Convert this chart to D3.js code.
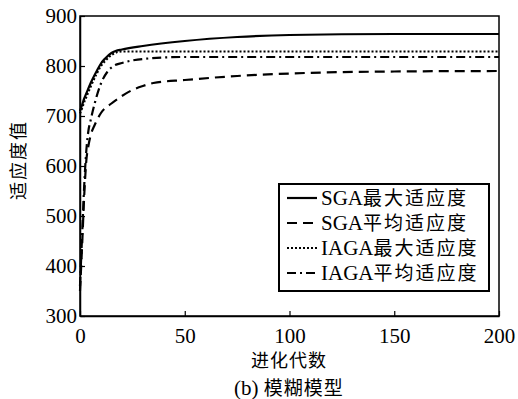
<!DOCTYPE html>
<html>
<head>
<meta charset="utf-8">
<script src="https://cdn.jsdelivr.net/npm/d3@7"></script>
<style>
  body { margin: 0; background: #fff; }
  svg { display: block; }
  .tick-label { font-family: "Liberation Serif", "Times New Roman", serif; font-size: 21px; fill: #000; }
  .cjk { font-family: "Noto Sans CJK SC", "Liberation Serif", serif; fill: #000; }
</style>
</head>
<body>
<div id="chart"></div>
<script>
// Data (generation -> fitness)
const sgaMaxGen = [0, 1, 2, 3, 5, 8, 10, 12, 15, 17, 20, 30, 50, 75, 100, 150, 200];
const sgaMax = [710, 722, 735, 745, 765, 790, 805, 815, 826, 830, 833, 840, 850, 858, 862, 864, 864];

const sgaAvgGen = [0, 1, 2, 3, 4, 5, 7, 10, 15, 20, 25, 30, 35, 50, 75, 100, 150, 200];
const sgaAvg = [350, 440, 540, 610, 640, 660, 682, 706, 725, 740, 752, 760, 766, 772, 780, 785, 789, 790];

const iagaMaxGen = [0, 1, 2, 3, 5, 8, 10, 12, 15, 18, 20, 30, 50, 100, 200];
const iagaMax = [705, 716, 728, 738, 758, 785, 800, 810, 822, 828, 829, 829, 829, 829, 829];

const iagaAvgGen = [0, 1, 2, 3, 4, 5, 7, 10, 13, 16, 20, 30, 50, 100, 200];
const iagaAvg = [360, 460, 560, 630, 670, 690, 725, 765, 788, 800, 806, 814, 818, 818, 818];

const xTicks = [0, 50, 100, 150, 200];
const yTicks = [300, 400, 500, 600, 700, 800, 900];
const legendLabels = ["SGA最大适应度", "SGA平均适应度", "IAGA最大适应度", "IAGA平均适应度"];

const W = 518, H = 399;
const margin = { top: 16, right: 19, bottom: 83, left: 80 };

const svg = d3.select('#chart').append('svg')
  .attr('width', W).attr('height', H);

const x = d3.scaleLinear().domain([0, 200]).range([margin.left, W - margin.right]);
const y = d3.scaleLinear().domain([300, 900]).range([H - margin.bottom, margin.top]);

const series = [
  { gen: sgaMaxGen, val: sgaMax, dash: null },
  { gen: sgaAvgGen, val: sgaAvg, dash: '10,6' },
  { gen: iagaMaxGen, val: iagaMax, dash: '2,2' },
  { gen: iagaAvgGen, val: iagaAvg, dash: '9,4,2,4' }
];

const line = d3.line()
  .x(d => x(d[0]))
  .y(d => y(d[1]))
  .curve(d3.curveMonotoneX);

// Lines
const plot = svg.append('g');
series.forEach(s => {
  plot.append('path')
    .datum(s.gen.map((g, i) => [g, s.val[i]]))
    .attr('fill', 'none')
    .attr('stroke', '#000')
    .attr('stroke-width', 2.2)
    .attr('stroke-dasharray', s.dash)
    .attr('d', line);
});

// Frame
svg.append('rect')
  .attr('x', x(0)).attr('y', y(900))
  .attr('width', x(200) - x(0)).attr('height', y(300) - y(900))
  .attr('fill', 'none').attr('stroke', '#000').attr('stroke-width', 1.5);

// Axes (ticks inside)
const xAxis = svg.append('g')
  .attr('transform', `translate(0,${y(300)})`)
  .call(d3.axisBottom(x).tickValues(xTicks).tickSizeInner(-5).tickSizeOuter(0).tickPadding(12));
const yAxis = svg.append('g')
  .attr('transform', `translate(${x(0)},0)`)
  .call(d3.axisLeft(y).tickValues(yTicks).tickSizeInner(-5).tickSizeOuter(0).tickPadding(3));

[xAxis, yAxis].forEach(a => {
  a.select('.domain').attr('stroke-width', 1.5);
  a.selectAll('.tick line').attr('stroke-width', 1.2);
  a.selectAll('.tick text').attr('class', 'tick-label').attr('font-size', null).attr('font-family', null);
  a.attr('font-size', null).attr('font-family', null);
});

// Axis titles
svg.append('text')
  .attr('class', 'cjk')
  .attr('x', 289).attr('y', 367)
  .attr('text-anchor', 'middle')
  .attr('font-size', 18)
  .attr('letter-spacing', 1)
  .text('进化代数');

svg.append('text')
  .attr('class', 'cjk')
  .attr('transform', 'translate(25,160) rotate(-90)')
  .attr('text-anchor', 'middle')
  .attr('font-size', 18)
  .attr('letter-spacing', 2)
  .text('适应度值');

const cap = svg.append('text')
  .attr('x', 289).attr('y', 395)
  .attr('text-anchor', 'middle')
  .attr('font-size', 19);
cap.append('tspan').attr('class', 'tick-label').attr('font-size', 20).text('(b) ');
cap.append('tspan').attr('class', 'cjk').attr('letter-spacing', 1).text('模糊模型');

// Legend
const lg = svg.append('g').attr('transform', 'translate(279,184)');
lg.append('rect')
  .attr('width', 210).attr('height', 107)
  .attr('fill', '#fff').attr('stroke', '#000').attr('stroke-width', 2);

legendLabels.forEach((lab, i) => {
  const yy = 14 + i * 25;
  lg.append('line')
    .attr('x1', 8).attr('x2', 38).attr('y1', yy).attr('y2', yy)
    .attr('stroke', '#000').attr('stroke-width', 2.2)
    .attr('stroke-dasharray', series[i].dash);
  const t = lg.append('text').attr('x', 42).attr('y', yy + 7).attr('font-size', 19);
  const latin = lab.match(/^[A-Z]+/)[0];
  t.append('tspan').attr('class', 'tick-label').attr('font-size', 20).text(latin);
  t.append('tspan').attr('class', 'cjk').attr('letter-spacing', 2).text(lab.slice(latin.length));
});
</script>
</body>
</html>
